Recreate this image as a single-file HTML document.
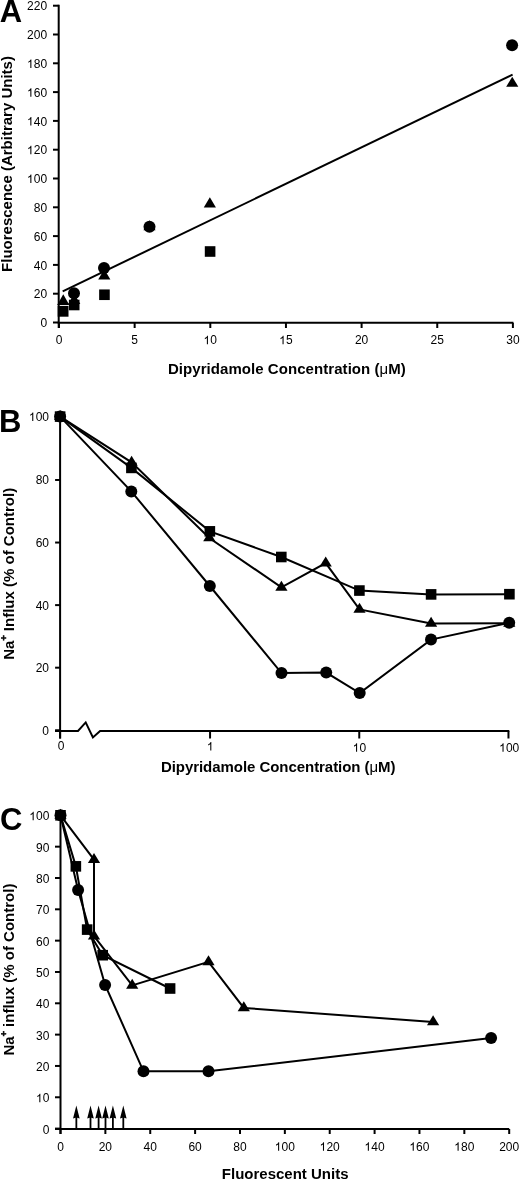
<!DOCTYPE html>
<html><head><meta charset="utf-8"><style>
html,body{margin:0;padding:0;background:#fff;width:520px;height:1180px;overflow:hidden}
svg{display:block;will-change:transform}
text{font-family:"Liberation Sans",sans-serif;fill:#000}
</style></head><body>
<svg width="520" height="1180" viewBox="0 0 520 1180" fill="#000">
<text x="-0.15" y="21.60" font-size="31" text-anchor="start" font-weight="bold" >A</text>
<path d="M58.70 4.80 L58.70 328.00" fill="none" stroke="#000" stroke-width="2.0"/>
<path d="M57.70 322.80 L513.40 322.80" fill="none" stroke="#000" stroke-width="2.0"/>
<path d="M53.00 322.50 L58.70 322.50" fill="none" stroke="#000" stroke-width="2.0"/>
<text x="40.43" y="327.40" font-size="12">0</text>
<path d="M53.00 293.70 L58.70 293.70" fill="none" stroke="#000" stroke-width="2.0"/>
<text x="33.75" y="298.30" font-size="12">2</text>
<text x="40.43" y="298.30" font-size="12">0</text>
<path d="M53.00 264.90 L58.70 264.90" fill="none" stroke="#000" stroke-width="2.0"/>
<text x="33.75" y="269.50" font-size="12">4</text>
<text x="40.43" y="269.50" font-size="12">0</text>
<path d="M53.00 236.10 L58.70 236.10" fill="none" stroke="#000" stroke-width="2.0"/>
<text x="33.75" y="240.70" font-size="12">6</text>
<text x="40.43" y="240.70" font-size="12">0</text>
<path d="M53.00 207.30 L58.70 207.30" fill="none" stroke="#000" stroke-width="2.0"/>
<text x="33.75" y="211.90" font-size="12">8</text>
<text x="40.43" y="211.90" font-size="12">0</text>
<path d="M53.00 178.50 L58.70 178.50" fill="none" stroke="#000" stroke-width="2.0"/>
<path d="M31.39 183.10 L30.33 183.10 L30.33 176.80 L28.29 177.95 L28.29 176.85 L30.03 175.75 L30.63 174.60 L31.39 174.60Z"/>
<text x="33.75" y="183.10" font-size="12">0</text>
<text x="40.43" y="183.10" font-size="12">0</text>
<path d="M53.00 149.70 L58.70 149.70" fill="none" stroke="#000" stroke-width="2.0"/>
<path d="M31.39 154.30 L30.33 154.30 L30.33 148.00 L28.29 149.15 L28.29 148.05 L30.03 146.95 L30.63 145.80 L31.39 145.80Z"/>
<text x="33.75" y="154.30" font-size="12">2</text>
<text x="40.43" y="154.30" font-size="12">0</text>
<path d="M53.00 120.90 L58.70 120.90" fill="none" stroke="#000" stroke-width="2.0"/>
<path d="M31.39 125.50 L30.33 125.50 L30.33 119.20 L28.29 120.35 L28.29 119.25 L30.03 118.15 L30.63 117.00 L31.39 117.00Z"/>
<text x="33.75" y="125.50" font-size="12">4</text>
<text x="40.43" y="125.50" font-size="12">0</text>
<path d="M53.00 92.10 L58.70 92.10" fill="none" stroke="#000" stroke-width="2.0"/>
<path d="M31.39 96.70 L30.33 96.70 L30.33 90.40 L28.29 91.55 L28.29 90.45 L30.03 89.35 L30.63 88.20 L31.39 88.20Z"/>
<text x="33.75" y="96.70" font-size="12">6</text>
<text x="40.43" y="96.70" font-size="12">0</text>
<path d="M53.00 63.30 L58.70 63.30" fill="none" stroke="#000" stroke-width="2.0"/>
<path d="M31.39 67.90 L30.33 67.90 L30.33 61.60 L28.29 62.75 L28.29 61.65 L30.03 60.55 L30.63 59.40 L31.39 59.40Z"/>
<text x="33.75" y="67.90" font-size="12">8</text>
<text x="40.43" y="67.90" font-size="12">0</text>
<path d="M53.00 34.50 L58.70 34.50" fill="none" stroke="#000" stroke-width="2.0"/>
<text x="27.08" y="39.10" font-size="12">2</text>
<text x="33.75" y="39.10" font-size="12">0</text>
<text x="40.43" y="39.10" font-size="12">0</text>
<path d="M53.00 5.70 L58.70 5.70" fill="none" stroke="#000" stroke-width="2.0"/>
<text x="27.08" y="10.30" font-size="12">2</text>
<text x="33.75" y="10.30" font-size="12">2</text>
<text x="40.43" y="10.30" font-size="12">0</text>
<path d="M59.00 322.80 L59.00 328.00" fill="none" stroke="#000" stroke-width="2.0"/>
<text x="55.66" y="344.30" font-size="12">0</text>
<path d="M134.65 322.80 L134.65 328.00" fill="none" stroke="#000" stroke-width="2.0"/>
<text x="131.31" y="344.30" font-size="12">5</text>
<path d="M210.30 322.80 L210.30 328.00" fill="none" stroke="#000" stroke-width="2.0"/>
<path d="M207.94 344.30 L206.88 344.30 L206.88 338.00 L204.84 339.15 L204.84 338.05 L206.58 336.95 L207.18 335.80 L207.94 335.80Z"/>
<text x="210.30" y="344.30" font-size="12">0</text>
<path d="M285.95 322.80 L285.95 328.00" fill="none" stroke="#000" stroke-width="2.0"/>
<path d="M283.59 344.30 L282.53 344.30 L282.53 338.00 L280.49 339.15 L280.49 338.05 L282.23 336.95 L282.83 335.80 L283.59 335.80Z"/>
<text x="285.95" y="344.30" font-size="12">5</text>
<path d="M361.60 322.80 L361.60 328.00" fill="none" stroke="#000" stroke-width="2.0"/>
<text x="354.93" y="344.30" font-size="12">2</text>
<text x="361.60" y="344.30" font-size="12">0</text>
<path d="M437.25 322.80 L437.25 328.00" fill="none" stroke="#000" stroke-width="2.0"/>
<text x="430.58" y="344.30" font-size="12">2</text>
<text x="437.25" y="344.30" font-size="12">5</text>
<path d="M512.90 322.80 L512.90 328.00" fill="none" stroke="#000" stroke-width="2.0"/>
<text x="506.23" y="344.30" font-size="12">3</text>
<text x="512.90" y="344.30" font-size="12">0</text>
<text x="167.90" y="373.60" font-size="15" text-anchor="start" font-weight="bold" letter-spacing="0.06">Dipyridamole Concentration (<tspan font-weight="normal">μ</tspan>M)</text>
<text transform="translate(12.1,164) rotate(-90)" font-size="15" font-weight="bold" text-anchor="middle">Fluorescence (Arbitrary Units)</text>
<path d="M62.70 291.40 L512.60 74.60" fill="none" stroke="#000" stroke-width="2.0"/>
<circle cx="74.00" cy="293.20" r="6.0"/>
<circle cx="104.00" cy="267.90" r="6.0"/>
<circle cx="149.50" cy="226.70" r="6.0"/>
<circle cx="512.10" cy="45.20" r="6.0"/>
<rect x="57.70" y="305.90" width="10.8" height="10.8"/>
<rect x="68.90" y="299.70" width="10.6" height="10.6"/>
<rect x="99.15" y="289.45" width="10.6" height="10.6"/>
<rect x="204.80" y="246.20" width="10.6" height="10.6"/>
<path d="M63.25 294.20L69.35 305.00L57.15 305.00Z"/>
<path d="M74.20 293.80L80.30 304.00L68.10 304.00Z"/>
<path d="M104.30 269.30L110.40 279.50L98.20 279.50Z"/>
<path d="M149.50 220.20L155.60 230.30L143.40 230.30Z"/>
<path d="M209.85 197.20L215.95 207.50L203.75 207.50Z"/>
<path d="M512.25 76.70L518.35 86.70L506.15 86.70Z"/>
<text x="-1.00" y="431.70" font-size="31" text-anchor="start" font-weight="bold" >B</text>
<path d="M60.10 416.50 L60.10 738.50" fill="none" stroke="#000" stroke-width="2.0"/>
<path d="M55.00 730.90 L78.00 730.90 L85.70 722.40 L92.90 737.40 L100.10 730.90 L509.30 730.90" fill="none" stroke="#000" stroke-width="2.0"/>
<path d="M55.10 730.25 L60.10 730.25" fill="none" stroke="#000" stroke-width="2.0"/>
<text x="42.33" y="734.85" font-size="12">0</text>
<path d="M55.10 667.68 L60.10 667.68" fill="none" stroke="#000" stroke-width="2.0"/>
<text x="35.65" y="672.38" font-size="12">2</text>
<text x="42.33" y="672.38" font-size="12">0</text>
<path d="M55.10 605.11 L60.10 605.11" fill="none" stroke="#000" stroke-width="2.0"/>
<text x="35.65" y="609.91" font-size="12">4</text>
<text x="42.33" y="609.91" font-size="12">0</text>
<path d="M55.10 542.54 L60.10 542.54" fill="none" stroke="#000" stroke-width="2.0"/>
<text x="35.65" y="546.84" font-size="12">6</text>
<text x="42.33" y="546.84" font-size="12">0</text>
<path d="M55.10 479.97 L60.10 479.97" fill="none" stroke="#000" stroke-width="2.0"/>
<text x="35.65" y="483.97" font-size="12">8</text>
<text x="42.33" y="483.97" font-size="12">0</text>
<path d="M55.10 417.40 L60.10 417.40" fill="none" stroke="#000" stroke-width="2.0"/>
<path d="M33.29 420.90 L32.23 420.90 L32.23 414.60 L30.19 415.75 L30.19 414.65 L31.93 413.55 L32.53 412.40 L33.29 412.40Z"/>
<text x="35.65" y="420.90" font-size="12">0</text>
<text x="42.33" y="420.90" font-size="12">0</text>
<path d="M60.10 730.90 L60.10 738.50" fill="none" stroke="#000" stroke-width="2.0"/>
<text x="57.66" y="750.00" font-size="12">0</text>
<path d="M210.06 730.90 L210.06 738.50" fill="none" stroke="#000" stroke-width="2.0"/>
<path d="M211.33 750.60 L210.27 750.60 L210.27 744.30 L208.23 745.45 L208.23 744.35 L209.97 743.25 L210.57 742.10 L211.33 742.10Z"/>
<path d="M359.26 730.90 L359.26 738.50" fill="none" stroke="#000" stroke-width="2.0"/>
<path d="M357.10 751.80 L356.04 751.80 L356.04 745.50 L354.00 746.65 L354.00 745.55 L355.74 744.45 L356.34 743.30 L357.10 743.30Z"/>
<text x="359.46" y="751.80" font-size="12">0</text>
<path d="M508.46 730.90 L508.46 738.50" fill="none" stroke="#000" stroke-width="2.0"/>
<path d="M503.56 751.80 L502.50 751.80 L502.50 745.50 L500.46 746.65 L500.46 745.55 L502.20 744.45 L502.80 743.30 L503.56 743.30Z"/>
<text x="505.92" y="751.80" font-size="12">0</text>
<text x="512.60" y="751.80" font-size="12">0</text>
<text x="160.90" y="772.20" font-size="15" text-anchor="start" font-weight="bold" letter-spacing="-0.05">Dipyridamole Concentration (<tspan font-weight="normal">μ</tspan>M)</text>
<text transform="translate(14.1,659.75) rotate(-90)" font-size="15" font-weight="bold" text-anchor="start">Na<tspan font-size="9" dy="-7" stroke="#000" stroke-width="0.5">+</tspan><tspan dy="7"> Influx (% of Control)</tspan></text>
<path d="M60.10 416.60 L131.30 491.40 L209.80 586.00 L281.50 673.10 L326.20 672.60 L359.70 693.10 L431.00 639.60 L509.20 622.70" fill="none" stroke="#000" stroke-width="2.0"/>
<path d="M60.10 416.60 L131.40 467.90 L209.85 531.35 L281.30 557.00 L359.40 590.55 L431.10 594.40 L509.40 594.20" fill="none" stroke="#000" stroke-width="2.0"/>
<path d="M60.10 416.60 L131.60 462.30 L209.30 538.00 L281.40 587.30 L325.70 563.10 L359.50 609.40 L431.10 623.50 L509.30 623.30" fill="none" stroke="#000" stroke-width="2.0"/>
<path d="M60.10 409.93L66.20 419.93L54.00 419.93Z"/>
<path d="M131.60 455.63L137.70 465.63L125.50 465.63Z"/>
<path d="M209.30 531.33L215.40 541.33L203.20 541.33Z"/>
<path d="M281.40 580.63L287.50 590.63L275.30 590.63Z"/>
<path d="M325.70 556.43L331.80 566.43L319.60 566.43Z"/>
<path d="M359.50 602.73L365.60 612.73L353.40 612.73Z"/>
<path d="M431.10 616.83L437.20 626.83L425.00 626.83Z"/>
<path d="M509.30 616.63L515.40 626.63L503.20 626.63Z"/>
<rect x="54.80" y="411.30" width="10.6" height="10.6"/>
<rect x="126.10" y="462.60" width="10.6" height="10.6"/>
<rect x="204.55" y="526.05" width="10.6" height="10.6"/>
<rect x="276.00" y="551.70" width="10.6" height="10.6"/>
<rect x="354.10" y="585.25" width="10.6" height="10.6"/>
<rect x="425.80" y="589.10" width="10.6" height="10.6"/>
<rect x="504.10" y="588.90" width="10.6" height="10.6"/>
<circle cx="60.10" cy="416.60" r="6.0"/>
<circle cx="131.30" cy="491.40" r="6.0"/>
<circle cx="209.80" cy="586.00" r="6.0"/>
<circle cx="281.50" cy="673.10" r="6.0"/>
<circle cx="326.20" cy="672.60" r="6.0"/>
<circle cx="359.70" cy="693.10" r="6.0"/>
<circle cx="431.00" cy="639.60" r="6.0"/>
<circle cx="509.20" cy="622.70" r="6.0"/>
<text x="0.00" y="829.70" font-size="31" text-anchor="start" font-weight="bold" >C</text>
<path d="M60.50 815.40 L60.50 1134.00" fill="none" stroke="#000" stroke-width="2.0"/>
<path d="M55.00 1129.00 L509.20 1129.00" fill="none" stroke="#000" stroke-width="2.0"/>
<path d="M55.00 1128.60 L60.50 1128.60" fill="none" stroke="#000" stroke-width="2.0"/>
<text x="42.73" y="1133.60" font-size="12">0</text>
<path d="M55.00 1097.27 L60.50 1097.27" fill="none" stroke="#000" stroke-width="2.0"/>
<path d="M40.36 1102.27 L39.30 1102.27 L39.30 1095.97 L37.26 1097.12 L37.26 1096.02 L39.00 1094.92 L39.60 1093.77 L40.36 1093.77Z"/>
<text x="42.73" y="1102.27" font-size="12">0</text>
<path d="M55.00 1065.95 L60.50 1065.95" fill="none" stroke="#000" stroke-width="2.0"/>
<text x="36.05" y="1070.95" font-size="12">2</text>
<text x="42.73" y="1070.95" font-size="12">0</text>
<path d="M55.00 1034.62 L60.50 1034.62" fill="none" stroke="#000" stroke-width="2.0"/>
<text x="36.05" y="1039.62" font-size="12">3</text>
<text x="42.73" y="1039.62" font-size="12">0</text>
<path d="M55.00 1003.30 L60.50 1003.30" fill="none" stroke="#000" stroke-width="2.0"/>
<text x="36.05" y="1008.30" font-size="12">4</text>
<text x="42.73" y="1008.30" font-size="12">0</text>
<path d="M55.00 971.97 L60.50 971.97" fill="none" stroke="#000" stroke-width="2.0"/>
<text x="36.05" y="976.97" font-size="12">5</text>
<text x="42.73" y="976.97" font-size="12">0</text>
<path d="M55.00 940.65 L60.50 940.65" fill="none" stroke="#000" stroke-width="2.0"/>
<text x="36.05" y="945.65" font-size="12">6</text>
<text x="42.73" y="945.65" font-size="12">0</text>
<path d="M55.00 909.32 L60.50 909.32" fill="none" stroke="#000" stroke-width="2.0"/>
<text x="36.05" y="914.32" font-size="12">7</text>
<text x="42.73" y="914.32" font-size="12">0</text>
<path d="M55.00 878.00 L60.50 878.00" fill="none" stroke="#000" stroke-width="2.0"/>
<text x="36.05" y="883.00" font-size="12">8</text>
<text x="42.73" y="883.00" font-size="12">0</text>
<path d="M55.00 846.67 L60.50 846.67" fill="none" stroke="#000" stroke-width="2.0"/>
<text x="36.05" y="851.67" font-size="12">9</text>
<text x="42.73" y="851.67" font-size="12">0</text>
<path d="M55.00 815.35 L60.50 815.35" fill="none" stroke="#000" stroke-width="2.0"/>
<path d="M33.69 820.35 L32.63 820.35 L32.63 814.05 L30.59 815.20 L30.59 814.10 L32.33 813.00 L32.93 811.85 L33.69 811.85Z"/>
<text x="36.05" y="820.35" font-size="12">0</text>
<text x="42.73" y="820.35" font-size="12">0</text>
<path d="M60.50 1129.00 L60.50 1134.00" fill="none" stroke="#000" stroke-width="2.0"/>
<text x="57.16" y="1150.80" font-size="12">0</text>
<path d="M105.37 1129.00 L105.37 1134.00" fill="none" stroke="#000" stroke-width="2.0"/>
<text x="98.70" y="1150.80" font-size="12">2</text>
<text x="105.37" y="1150.80" font-size="12">0</text>
<path d="M150.24 1129.00 L150.24 1134.00" fill="none" stroke="#000" stroke-width="2.0"/>
<text x="143.57" y="1150.80" font-size="12">4</text>
<text x="150.24" y="1150.80" font-size="12">0</text>
<path d="M195.11 1129.00 L195.11 1134.00" fill="none" stroke="#000" stroke-width="2.0"/>
<text x="188.44" y="1150.80" font-size="12">6</text>
<text x="195.11" y="1150.80" font-size="12">0</text>
<path d="M239.98 1129.00 L239.98 1134.00" fill="none" stroke="#000" stroke-width="2.0"/>
<text x="233.31" y="1150.80" font-size="12">8</text>
<text x="239.98" y="1150.80" font-size="12">0</text>
<path d="M284.85 1129.00 L284.85 1134.00" fill="none" stroke="#000" stroke-width="2.0"/>
<path d="M279.15 1150.80 L278.09 1150.80 L278.09 1144.50 L276.05 1145.65 L276.05 1144.55 L277.79 1143.45 L278.39 1142.30 L279.15 1142.30Z"/>
<text x="281.51" y="1150.80" font-size="12">0</text>
<text x="288.19" y="1150.80" font-size="12">0</text>
<path d="M329.72 1129.00 L329.72 1134.00" fill="none" stroke="#000" stroke-width="2.0"/>
<path d="M324.02 1150.80 L322.96 1150.80 L322.96 1144.50 L320.92 1145.65 L320.92 1144.55 L322.66 1143.45 L323.26 1142.30 L324.02 1142.30Z"/>
<text x="326.38" y="1150.80" font-size="12">2</text>
<text x="333.06" y="1150.80" font-size="12">0</text>
<path d="M374.59 1129.00 L374.59 1134.00" fill="none" stroke="#000" stroke-width="2.0"/>
<path d="M368.89 1150.80 L367.83 1150.80 L367.83 1144.50 L365.79 1145.65 L365.79 1144.55 L367.53 1143.45 L368.13 1142.30 L368.89 1142.30Z"/>
<text x="371.25" y="1150.80" font-size="12">4</text>
<text x="377.93" y="1150.80" font-size="12">0</text>
<path d="M419.46 1129.00 L419.46 1134.00" fill="none" stroke="#000" stroke-width="2.0"/>
<path d="M413.76 1150.80 L412.70 1150.80 L412.70 1144.50 L410.66 1145.65 L410.66 1144.55 L412.40 1143.45 L413.00 1142.30 L413.76 1142.30Z"/>
<text x="416.12" y="1150.80" font-size="12">6</text>
<text x="422.80" y="1150.80" font-size="12">0</text>
<path d="M464.33 1129.00 L464.33 1134.00" fill="none" stroke="#000" stroke-width="2.0"/>
<path d="M458.63 1150.80 L457.57 1150.80 L457.57 1144.50 L455.53 1145.65 L455.53 1144.55 L457.27 1143.45 L457.87 1142.30 L458.63 1142.30Z"/>
<text x="460.99" y="1150.80" font-size="12">8</text>
<text x="467.67" y="1150.80" font-size="12">0</text>
<path d="M509.20 1129.00 L509.20 1134.00" fill="none" stroke="#000" stroke-width="2.0"/>
<text x="499.19" y="1150.80" font-size="12">2</text>
<text x="505.86" y="1150.80" font-size="12">0</text>
<text x="512.54" y="1150.80" font-size="12">0</text>
<text x="285.20" y="1179.00" font-size="15" text-anchor="middle" font-weight="bold" >Fluorescent Units</text>
<text transform="translate(14.1,1055.5) rotate(-90)" font-size="15" font-weight="bold" text-anchor="start">Na<tspan font-size="9" dy="-7" stroke="#000" stroke-width="0.5">+</tspan><tspan dy="7"> influx (% of Control)</tspan></text>
<path d="M60.50 815.30 L78.10 890.00 L105.10 984.90 L143.50 1071.30 L208.50 1071.30 L491.10 1038.00" fill="none" stroke="#000" stroke-width="2.0"/>
<path d="M60.50 815.30 L75.85 866.35 L87.15 929.60 L102.70 955.20 L170.10 988.50" fill="none" stroke="#000" stroke-width="2.0"/>
<path d="M60.50 815.30 L94.00 859.60 L94.00 936.10 L132.20 985.35 L208.50 961.80 L243.80 1007.95 L433.10 1022.00" fill="none" stroke="#000" stroke-width="2.0"/>
<path d="M60.50 808.63L66.60 818.63L54.40 818.63Z"/>
<path d="M94.00 852.93L100.10 862.93L87.90 862.93Z"/>
<path d="M94.00 929.43L100.10 939.43L87.90 939.43Z"/>
<path d="M132.20 978.68L138.30 988.68L126.10 988.68Z"/>
<path d="M208.50 955.13L214.60 965.13L202.40 965.13Z"/>
<path d="M243.80 1001.28L249.90 1011.28L237.70 1011.28Z"/>
<path d="M433.10 1015.33L439.20 1025.33L427.00 1025.33Z"/>
<rect x="55.20" y="810.00" width="10.6" height="10.6"/>
<rect x="70.55" y="861.05" width="10.6" height="10.6"/>
<rect x="81.85" y="924.30" width="10.6" height="10.6"/>
<rect x="97.40" y="949.90" width="10.6" height="10.6"/>
<rect x="164.80" y="983.20" width="10.6" height="10.6"/>
<circle cx="60.50" cy="815.30" r="6.0"/>
<circle cx="78.10" cy="890.00" r="6.0"/>
<circle cx="105.10" cy="984.90" r="6.0"/>
<circle cx="143.50" cy="1071.30" r="6.0"/>
<circle cx="208.50" cy="1071.30" r="6.0"/>
<circle cx="491.10" cy="1038.00" r="6.0"/>
<path d="M76.35 1129.00 L76.35 1114.00" fill="none" stroke="#000" stroke-width="1.8"/>
<path d="M76.35 1105.6L79.65 1118.6L76.35 1117.4L73.05 1118.6Z"/>
<path d="M90.50 1129.00 L90.50 1114.00" fill="none" stroke="#000" stroke-width="1.8"/>
<path d="M90.50 1105.6L93.80 1118.6L90.50 1117.4L87.20 1118.6Z"/>
<path d="M98.60 1129.00 L98.60 1114.00" fill="none" stroke="#000" stroke-width="1.8"/>
<path d="M98.60 1105.6L101.90 1118.6L98.60 1117.4L95.30 1118.6Z"/>
<path d="M105.50 1129.00 L105.50 1114.00" fill="none" stroke="#000" stroke-width="1.8"/>
<path d="M105.50 1105.6L108.80 1118.6L105.50 1117.4L102.20 1118.6Z"/>
<path d="M112.90 1129.00 L112.90 1114.00" fill="none" stroke="#000" stroke-width="1.8"/>
<path d="M112.90 1105.6L116.20 1118.6L112.90 1117.4L109.60 1118.6Z"/>
<path d="M123.30 1129.00 L123.30 1114.00" fill="none" stroke="#000" stroke-width="1.8"/>
<path d="M123.30 1105.6L126.60 1118.6L123.30 1117.4L120.00 1118.6Z"/>
</svg>
</body></html>
